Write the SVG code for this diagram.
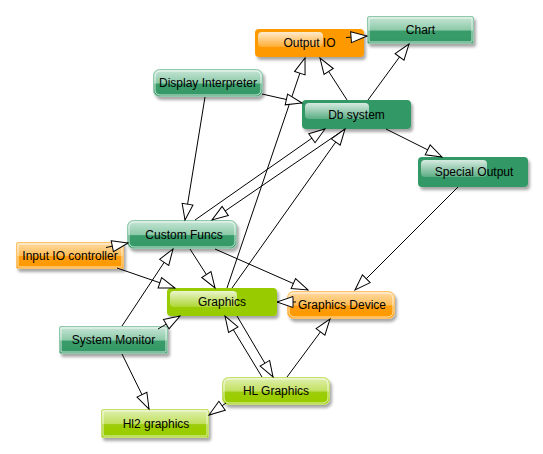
<svg xmlns="http://www.w3.org/2000/svg" width="543" height="454" viewBox="0 0 543 454">
<defs>
<style>
.t{font-family:"Liberation Sans",Arial,sans-serif;font-size:12px;fill:#000;text-anchor:middle}
.e{fill:none;stroke:#000;stroke-width:1;marker-end:url(#arr)}
.in{fill:none;stroke:#fff;stroke-opacity:.75;stroke-width:1}
.gl{fill:url(#gGloss)}
.sg{fill:#339966}
.so{fill:#ff9900}
.sl{fill:#99cc00}
.bg{fill:url(#gGreen);stroke:#8fc8ab}
.bo{fill:url(#gOrange);stroke:#ffc266}
.bl{fill:url(#gLime);stroke:#c4e066}
</style>
<linearGradient id="gGreen" x1="0" y1="0" x2="0" y2="1">
<stop offset="0" stop-color="#c9e6d7"/><stop offset="0.5" stop-color="#8ccaa9"/><stop offset="0.54" stop-color="#3a9c6a"/><stop offset="1" stop-color="#339966"/>
</linearGradient>
<linearGradient id="gOrange" x1="0" y1="0" x2="0" y2="1">
<stop offset="0" stop-color="#ffdca6"/><stop offset="0.5" stop-color="#ffbb55"/><stop offset="0.54" stop-color="#ff9d0a"/><stop offset="1" stop-color="#ff9900"/>
</linearGradient>
<linearGradient id="gLime" x1="0" y1="0" x2="0" y2="1">
<stop offset="0" stop-color="#e0f0b0"/><stop offset="0.5" stop-color="#c2e060"/><stop offset="0.54" stop-color="#9ccd08"/><stop offset="1" stop-color="#99cc00"/>
</linearGradient>
<linearGradient id="gGloss" x1="0" y1="0" x2="0" y2="1">
<stop offset="0" stop-color="#fff" stop-opacity="0.8"/><stop offset="1" stop-color="#fff" stop-opacity="0.2"/>
</linearGradient>
<filter id="sh" x="-10%" y="-20%" width="130%" height="170%">
<feGaussianBlur in="SourceAlpha" stdDeviation="1.5"/><feOffset dx="2" dy="3"/>
<feComponentTransfer><feFuncA type="linear" slope="0.35"/></feComponentTransfer>
<feMerge><feMergeNode/><feMergeNode in="SourceGraphic"/></feMerge>
</filter>
<marker id="arr" markerUnits="userSpaceOnUse" markerWidth="20" markerHeight="14" refX="16.5" refY="6" orient="auto" overflow="visible">
<path d="M0.5,0.5 L16.5,6 L0.5,11.5 Z" fill="#fff" stroke="#000" stroke-width="1"/>
</marker>
</defs>
<rect width="543" height="454" fill="#fff"/>

<g id="nodes">
<g id="n-output-io">
<rect class="so" x="255" y="29" width="109" height="28" rx="4" filter="url(#sh)"/>
<rect class="gl" x="258" y="32" width="65" height="15" rx="4"/>
<text class="t" x="309.5" y="47">Output IO</text>
</g>
<g id="n-chart">
<rect class="bg" x="367.5" y="16.5" width="106" height="27" rx="1.5" filter="url(#sh)"/>
<rect class="in" x="369" y="18" width="103" height="24" rx="1"/>
<text class="t" x="420.5" y="34">Chart</text>
</g>
<g id="n-display-interpreter">
<rect class="bg" x="153.5" y="69.5" width="109" height="27" rx="6" filter="url(#sh)"/>
<rect class="in" x="155" y="71" width="106" height="24" rx="5"/>
<text class="t" x="208" y="87">Display Interpreter</text>
</g>
<g id="n-db-system">
<rect class="sg" x="302" y="100" width="109" height="29" rx="4" filter="url(#sh)"/>
<rect class="gl" x="305" y="103" width="64" height="16" rx="4"/>
<text class="t" x="356.5" y="118.5">Db system</text>
</g>
<g id="n-special-output">
<rect class="sg" x="418" y="157" width="110" height="30" rx="4" filter="url(#sh)"/>
<rect class="gl" x="421" y="160" width="66" height="17" rx="4"/>
<text class="t" x="474" y="176">Special Output</text>
</g>
<g id="n-custom-funcs">
<rect class="bg" x="127.5" y="220.5" width="109" height="28" rx="6" filter="url(#sh)"/>
<rect class="in" x="129" y="222" width="106" height="25" rx="5"/>
<text class="t" x="184" y="238.5">Custom Funcs</text>
</g>
<g id="n-input-io-controller">
<rect class="bo" x="16.5" y="242.5" width="107" height="26" rx="1.5" filter="url(#sh)"/>
<rect class="in" x="18" y="244" width="104" height="23" rx="1"/>
<text class="t" x="70" y="260">Input IO controller</text>
</g>
<g id="n-graphics">
<rect class="sl" x="167" y="288" width="110" height="28" rx="4" filter="url(#sh)"/>
<rect class="gl" x="170" y="291" width="67" height="16" rx="4"/>
<text class="t" x="222" y="306">Graphics</text>
</g>
<g id="n-graphics-device">
<rect class="bo" x="287.5" y="291.5" width="107" height="27" rx="6" filter="url(#sh)"/>
<rect class="in" x="289" y="293" width="104" height="24" rx="5"/>
<text class="t" x="342" y="309">Graphics Device</text>
</g>
<g id="n-system-monitor">
<rect class="bg" x="59.5" y="326.5" width="108" height="27" rx="1.5" filter="url(#sh)"/>
<rect class="in" x="61" y="328" width="105" height="24" rx="1"/>
<text class="t" x="113.5" y="344">System Monitor</text>
</g>
<g id="n-hl-graphics">
<rect class="bl" x="222.5" y="377.5" width="107" height="27" rx="6" filter="url(#sh)"/>
<rect class="in" x="224" y="379" width="104" height="24" rx="5"/>
<text class="t" x="276" y="395">HL Graphics</text>
</g>
<g id="n-hl2-graphics">
<rect class="bl" x="101.5" y="409.5" width="107" height="28" rx="1.5" filter="url(#sh)"/>
<rect class="in" x="103" y="411" width="104" height="25" rx="1"/>
<text class="t" x="156" y="428">Hl2 graphics</text>
</g>
</g>

<g id="connectors">
<path class="e" d="M346,37.5 L367,36"/>
<path class="e" d="M347,100 L320,58"/>
<path class="e" d="M227,288 L305,58"/>
<path class="e" d="M368,100 L409,44"/>
<path class="e" d="M262,94 L302,103"/>
<path class="e" d="M205,97 L185,220"/>
<path class="e" d="M195,220 L325,129"/>
<path class="e" d="M345,129 L212,220"/>
<path class="e" d="M232,288 L345,129"/>
<path class="e" d="M386,129 L442,157"/>
<path class="e" d="M458,187 L355,290"/>
<path class="e" d="M215,249 L308,290"/>
<path class="e" d="M190,249 L215,288"/>
<path class="e" d="M106,247.5 L128,243"/>
<path class="e" d="M117,268 L175,288"/>
<path class="e" d="M122,326 L173,249"/>
<path class="e" d="M158,329 L180,316"/>
<path class="e" d="M296,302 L277,302"/>
<path class="e" d="M262,377 L225,316"/>
<path class="e" d="M237,316 L273,377"/>
<path class="e" d="M287,377 L330,319"/>
<path class="e" d="M122,354 L149,409"/>
<path class="e" d="M226,403 L209,415"/>
</g>
</svg>
